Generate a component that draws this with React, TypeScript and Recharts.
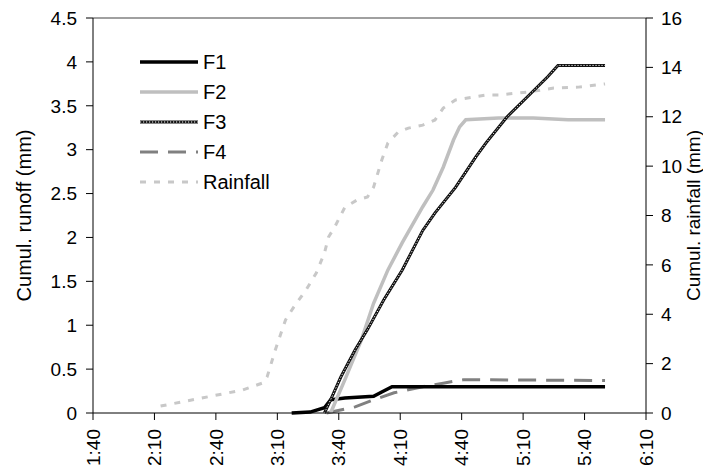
import React from 'react';
import { LineChart, Line, XAxis, YAxis, ReferenceLine } from 'recharts';

// time axis in minutes since midnight (1:40 .. 6:10)
const timeTicks = [100, 130, 160, 190, 220, 250, 280, 310, 340, 370];
const runoffTicks = [0, 0.5, 1, 1.5, 2, 2.5, 3, 3.5, 4, 4.5];
const rainTicks = [0, 2, 4, 6, 8, 10, 12, 14, 16];

const f1Time = [197, 206, 213, 216, 223, 237, 241, 246, 350];
const f1Runoff = [0, 0.01, 0.06, 0.15, 0.17, 0.19, 0.24, 0.3, 0.3];

const f2Time = [216, 223, 231, 237, 244, 251, 261, 266, 271, 276, 279, 282, 298, 315, 332, 350];
const f2Runoff = [0, 0.38, 0.83, 1.25, 1.63, 1.94, 2.35, 2.54, 2.8, 3.11, 3.26, 3.34, 3.36, 3.36, 3.34, 3.34];

const f3Time = [213, 216, 221, 228, 234, 242, 251, 261, 267, 277, 287, 292, 302, 312, 322, 327, 350];
const f3Runoff = [0, 0.15, 0.41, 0.72, 0.95, 1.29, 1.63, 2.08, 2.28, 2.57, 2.92, 3.08, 3.37, 3.6, 3.83, 3.96, 3.96];

const f4Time = [214, 228, 237, 247, 261, 271, 281, 350];
const f4Runoff = [0, 0.07, 0.15, 0.23, 0.3, 0.34, 0.38, 0.37];

const rainTime = [133, 173, 183, 185, 189, 194, 198, 204, 209, 213, 215, 218, 223, 229, 234, 237, 241, 244, 249, 254, 261, 267, 271, 277, 286, 292, 298, 312, 325, 337, 350];
const rainCumul = [0.28, 0.93, 1.22, 1.46, 2.55, 3.77, 4.29, 4.98, 5.67, 6.48, 7.13, 7.53, 8.34, 8.63, 8.75, 9.15, 10.25, 10.94, 11.38, 11.54, 11.66, 11.87, 12.35, 12.68, 12.8, 12.88, 12.88, 13.0, 13.16, 13.2, 13.33];

const zip = (ts: number[], vs: number[]) => ts.map((t, i) => ({ t, v: vs[i] }));

const f1Data = zip(f1Time, f1Runoff);
const f2Data = zip(f2Time, f2Runoff);
const f3Data = zip(f3Time, f3Runoff);
const f4Data = zip(f4Time, f4Runoff);
const rainData = zip(rainTime, rainCumul);

const styles: Record<string, { stroke: string; width: number; dash?: string; dots?: boolean }> = {
  F1: { stroke: '#000000', width: 3.5 },
  F2: { stroke: '#bfbfbf', width: 3.5 },
  F3: { stroke: '#111111', width: 3, dots: true },
  F4: { stroke: '#808080', width: 3, dash: '18 10' },
  Rainfall: { stroke: '#c8c8c8', width: 3, dash: '6 8' },
};
const legendNames = ['F1', 'F2', 'F3', 'F4', 'Rainfall'];

const fmtTime = (m: number) => `${Math.floor(m / 60)}:${String(m % 60).padStart(2, '0')}`;

const fontSize = 19;

const TimeTick = (props: any) => {
  const { x, y, payload } = props;
  return (
    <text
      x={x}
      y={y}
      transform={`rotate(-90, ${x}, ${y})`}
      textAnchor="end"
      dy="0.35em"
      fontSize={fontSize}
      fill="#000"
    >
      {fmtTime(payload.value)}
    </text>
  );
};

const ChartLegend = () => (
  <svg width={150} height={150} style={{ position: 'absolute', left: 138, top: 50 }}>
    {legendNames.map((name, i) => {
      const s = styles[name];
      const y = 12 + i * 30;
      return (
        <g key={name}>
          <line x1={2} x2={60} y1={y} y2={y} stroke={s.stroke} strokeWidth={s.width} strokeDasharray={s.dash} />
          {s.dots && (
            <line x1={2} x2={60} y1={y} y2={y} stroke="#ffffff" strokeWidth={1} strokeDasharray="1.2 1.8" />
          )}
          <text x={65} y={y} dy="0.35em" fontSize={20} fill="#000">
            {name}
          </text>
        </g>
      );
    })}
  </svg>
);

export default function App() {
  return (
    <div style={{ position: 'absolute', left: 0, top: 0, width: 703, height: 472, fontFamily: '"Liberation Sans", Arial, sans-serif', background: '#fff' }}>
      <LineChart width={703} height={472} margin={{ top: 18, right: 0, bottom: 0, left: 0 }}>
        <XAxis
          dataKey="t"
          type="number"
          domain={[100, 370]}
          ticks={timeTicks}
          interval={0}
          height={59}
          tickSize={7}
          tickMargin={9}
          tick={<TimeTick />}
          stroke="#000"
          tickLine={{ stroke: '#000' }}
        />
        <YAxis
          yAxisId="left"
          domain={[0, 4.5]}
          ticks={runoffTicks}
          interval={0}
          width={93}
          tickSize={7}
          tickMargin={9}
          stroke="#000"
          tick={{ fill: '#000', fontSize }}
          label={{ value: 'Cumul. runoff (mm)', angle: -90, position: 'insideLeft', offset: 24, style: { textAnchor: 'middle', fontSize: 20, fill: '#000' } }}
        />
        <YAxis
          yAxisId="right"
          orientation="right"
          domain={[0, 16]}
          ticks={rainTicks}
          interval={0}
          width={57}
          tickSize={7}
          tickMargin={8}
          stroke="#000"
          tick={{ fill: '#000', fontSize }}
          label={{ value: 'Cumul. rainfall (mm)', angle: -90, position: 'insideRight', offset: 10, style: { textAnchor: 'middle', fontSize: 19, fill: '#000' } }}
        />
        <ReferenceLine yAxisId="left" y={4.5} stroke="#808080" strokeWidth={1.5} />
        <Line yAxisId="right" data={rainData} dataKey="v" name="Rainfall" type="linear" stroke={styles.Rainfall.stroke} strokeWidth={styles.Rainfall.width} strokeDasharray={styles.Rainfall.dash} dot={false} activeDot={false} isAnimationActive={false} />
        <Line yAxisId="left" data={f4Data} dataKey="v" name="F4" type="linear" stroke={styles.F4.stroke} strokeWidth={styles.F4.width} strokeDasharray={styles.F4.dash} dot={false} activeDot={false} isAnimationActive={false} />
        <Line yAxisId="left" data={f1Data} dataKey="v" name="F1" type="linear" stroke={styles.F1.stroke} strokeWidth={styles.F1.width} dot={false} activeDot={false} isAnimationActive={false} />
        <Line yAxisId="left" data={f2Data} dataKey="v" name="F2" type="linear" stroke={styles.F2.stroke} strokeWidth={styles.F2.width} dot={false} activeDot={false} isAnimationActive={false} />
        <Line yAxisId="left" data={f3Data} dataKey="v" name="F3" type="linear" stroke={styles.F3.stroke} strokeWidth={styles.F3.width} dot={false} activeDot={false} isAnimationActive={false} />
        <Line yAxisId="left" data={f3Data} dataKey="v" name="F3 texture" legendType="none" type="linear" stroke="#ffffff" strokeWidth={1} strokeDasharray="1.2 1.8" dot={false} activeDot={false} isAnimationActive={false} />
      </LineChart>
      <ChartLegend />
    </div>
  );
}
